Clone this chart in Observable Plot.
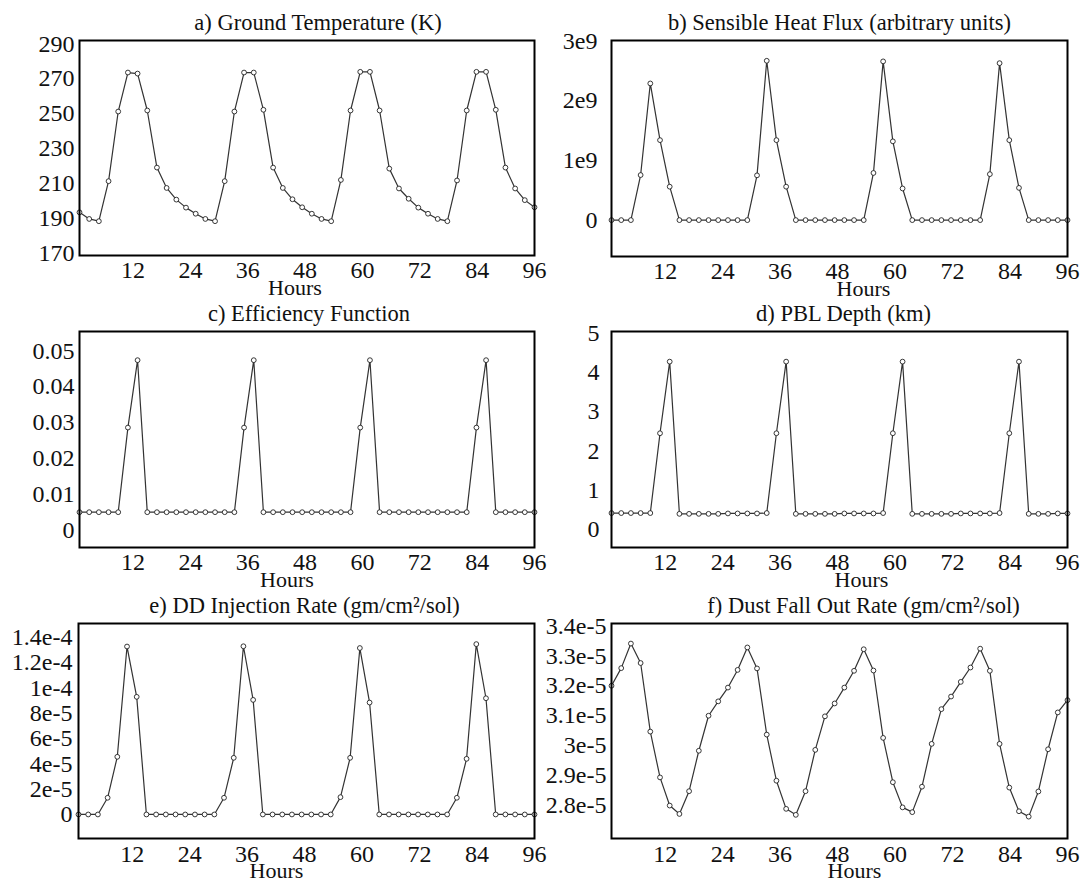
<!DOCTYPE html>
<html>
<head>
<meta charset="utf-8">
<script src="https://cdn.jsdelivr.net/npm/d3@7"></script>
<script src="https://cdn.jsdelivr.net/npm/@observablehq/plot@0.6"></script>
<style>
  body { margin: 0; background: #fff; }
  #chart { position: relative; width: 1083px; height: 882px; font-family: "Liberation Serif", "Times New Roman", serif; }
  #chart svg { position: absolute; overflow: visible; }
</style>
</head>
<body>
<div id="chart"></div>
<script>
// ---- data ----
const hours = [0.80, 2.83, 4.85, 6.88, 8.90, 10.93, 12.95, 14.98, 17.00, 19.03, 21.06, 23.08,
  25.11, 27.13, 29.16, 31.18, 33.21, 35.23, 37.26, 39.28, 41.31, 43.34, 45.36, 47.39,
  49.41, 51.44, 53.46, 55.49, 57.51, 59.54, 61.57, 63.59, 65.62, 67.64, 69.67, 71.69,
  73.72, 75.74, 77.77, 79.79, 81.82, 83.85, 85.87, 87.90, 89.92, 91.95, 93.97, 96.00];

const groundTemp = [193.3, 189.5, 188.2, 211.2, 251.2, 273.6, 273.0, 251.8, 219.0, 207.3, 200.6, 196.0,
  192.5, 189.5, 188.2, 211.2, 251.2, 273.6, 273.6, 252.2, 219.0, 207.3, 200.8, 196.2,
  192.5, 189.5, 188.2, 211.9, 251.8, 274.0, 274.0, 251.8, 218.4, 207.0, 201.1, 196.0,
  192.5, 189.5, 188.2, 211.6, 251.8, 274.0, 274.0, 252.2, 219.0, 207.0, 200.3, 196.2];

const sensibleHeat = [0, 0, 0, 0.755e9, 2.29e9, 1.34e9, 0.56e9, 0, 0, 0, 0, 0,
  0, 0, 0, 0.75e9, 2.67e9, 1.34e9, 0.56e9, 0, 0, 0, 0, 0,
  0, 0, 0, 0.79e9, 2.66e9, 1.32e9, 0.53e9, 0, 0, 0, 0, 0,
  0, 0, 0, 0.77e9, 2.63e9, 1.34e9, 0.54e9, 0, 0, 0, 0, 0];

const efficiency = [0.005, 0.005, 0.005, 0.005, 0.005, 0.0286, 0.0474, 0.005, 0.005, 0.005, 0.005, 0.005,
  0.005, 0.005, 0.005, 0.005, 0.005, 0.0286, 0.0474, 0.005, 0.005, 0.005, 0.005, 0.005,
  0.005, 0.005, 0.005, 0.005, 0.005, 0.0286, 0.0474, 0.005, 0.005, 0.005, 0.005, 0.005,
  0.005, 0.005, 0.005, 0.005, 0.005, 0.0286, 0.0474, 0.005, 0.005, 0.005, 0.005, 0.005];

const pblDepth = [0.41, 0.41, 0.41, 0.41, 0.41, 2.45, 4.28, 0.39, 0.39, 0.39, 0.39, 0.39,
  0.40, 0.40, 0.40, 0.40, 0.41, 2.45, 4.28, 0.39, 0.39, 0.39, 0.39, 0.39,
  0.40, 0.40, 0.40, 0.40, 0.41, 2.45, 4.28, 0.39, 0.39, 0.39, 0.39, 0.39,
  0.40, 0.40, 0.40, 0.40, 0.41, 2.45, 4.28, 0.39, 0.39, 0.39, 0.40, 0.40];

const injection = [0, 0, 0, 1.32e-5, 4.56e-5, 1.328e-4, 9.3e-5, 0, 0, 0, 0, 0,
  0, 0, 0, 1.32e-5, 4.48e-5, 1.33e-4, 9.06e-5, 0, 0, 0, 0, 0,
  0, 0, 0, 1.37e-5, 4.48e-5, 1.316e-4, 8.85e-5, 0, 0, 0, 0, 0,
  0, 0, 0, 1.32e-5, 4.4e-5, 1.347e-4, 9.19e-5, 0, 0, 0, 0, 0];

const dustFall = [3.200e-5, 3.259e-5, 3.341e-5, 3.276e-5, 3.047e-5, 2.894e-5, 2.800e-5, 2.772e-5, 2.848e-5, 2.983e-5, 3.100e-5, 3.148e-5,
  3.194e-5, 3.253e-5, 3.328e-5, 3.258e-5, 3.037e-5, 2.883e-5, 2.789e-5, 2.769e-5, 2.848e-5, 2.986e-5, 3.098e-5, 3.141e-5,
  3.194e-5, 3.250e-5, 3.322e-5, 3.251e-5, 3.026e-5, 2.878e-5, 2.794e-5, 2.778e-5, 2.863e-5, 3.006e-5, 3.122e-5, 3.164e-5,
  3.213e-5, 3.261e-5, 3.324e-5, 3.250e-5, 3.006e-5, 2.860e-5, 2.781e-5, 2.763e-5, 2.847e-5, 2.988e-5, 3.111e-5, 3.152e-5];

const titles = ["a) Ground Temperature (K)", "b) Sensible Heat Flux (arbitrary units)",
  "c) Efficiency Function", "d) PBL Depth (km)",
  "e) DD Injection Rate (gm/cm\u00B2/sol)", "f) Dust Fall Out Rate (gm/cm\u00B2/sol)"];
const xLabel = "Hours";
const xTicks = [12, 24, 36, 48, 60, 72, 84, 96];

const yTicksA = [170, 190, 210, 230, 250, 270, 290];
const yLabelsA = ["170", "190", "210", "230", "250", "270", "290"];
const yTicksB = [0, 1e9, 2e9, 3e9];
const yLabelsB = ["0", "1e9", "2e9", "3e9"];
const yTicksC = [0, 0.01, 0.02, 0.03, 0.04, 0.05];
const yLabelsC = ["0", "0.01", "0.02", "0.03", "0.04", "0.05"];
const yTicksD = [0, 1, 2, 3, 4, 5];
const yLabelsD = ["0", "1", "2", "3", "4", "5"];
const yTicksE = [0, 2e-5, 4e-5, 6e-5, 8e-5, 1e-4, 1.2e-4, 1.4e-4];
const yLabelsE = ["0", "2e-5", "4e-5", "6e-5", "8e-5", "1e-4", "1.2e-4", "1.4e-4"];
const yTicksF = [2.8e-5, 2.9e-5, 3e-5, 3.1e-5, 3.2e-5, 3.3e-5, 3.4e-5];
const yLabelsF = ["2.8e-5", "2.9e-5", "3e-5", "3.1e-5", "3.2e-5", "3.3e-5", "3.4e-5"];

// ---- panel specs (scales + layout) ----
const series = [groundTemp, sensibleHeat, efficiency, pblDepth, injection, dustFall];
const yTicks = [yTicksA, yTicksB, yTicksC, yTicksD, yTicksE, yTicksF];
const yLabels = [yLabelsA, yLabelsB, yLabelsC, yLabelsD, yLabelsE, yLabelsF];
const yDomains = [[168.5, 292], [-0.61e9, 3.01e9], [-0.00485, 0.0554], [-0.47, 5.05], [-1.9e-5, 1.51e-4], [2.69e-5, 3.408e-5]];

const layout = [
  {left: 0,   top: 0,   width: 540, height: 291, mL: 79, mR: 6,  mT: 40, mB: 36, yPad: 5,  xPad: 5, titleDx: 11, hoursDx: -12},
  {left: 540, top: 0,   width: 543, height: 291, mL: 71, mR: 16, mT: 40, mB: 35, yPad: 14, xPad: 5, titleDx: 0,  hoursDx: 24},
  {left: 0,   top: 291, width: 540, height: 291, mL: 79, mR: 6,  mT: 40, mB: 35, yPad: 5,  xPad: 5, titleDx: 2,  hoursDx: -20},
  {left: 540, top: 291, width: 543, height: 291, mL: 71, mR: 16, mT: 40, mB: 35, yPad: 12, xPad: 5, titleDx: 4,  hoursDx: 22},
  {left: 0,   top: 582, width: 540, height: 300, mL: 78, mR: 6,  mT: 41, mB: 44, yPad: 6,  xPad: 6, titleDx: -2, hoursDx: -30},
  {left: 540, top: 582, width: 543, height: 300, mL: 71, mR: 16, mT: 41, mB: 44, yPad: 5,  xPad: 6, titleDx: 24, hoursDx: 15}
];

const root = document.getElementById("chart");
series.forEach((vals, i) => {
  const L = layout[i];
  const data = hours.map((h, k) => ({h, v: vals[k]}));
  const labelMap = new Map(yTicks[i].map((t, j) => [t, yLabels[i][j]]));
  const svg = Plot.plot({
    width: L.width, height: L.height,
    marginLeft: L.mL, marginRight: L.mR, marginTop: L.mT, marginBottom: L.mB,
    style: {fontFamily: "'Liberation Serif', 'Times New Roman', serif", fontSize: "24px", background: "transparent", overflow: "visible", color: "#111"},
    x: {domain: [hours[0], 96]},
    y: {domain: yDomains[i]},
    marks: [
      Plot.axisX({ticks: xTicks, tickSize: 0, tickPadding: L.xPad, label: null, tickFormat: d => String(d)}),
      Plot.axisY({ticks: yTicks[i], tickSize: 0, tickPadding: L.yPad, label: null, tickFormat: d => labelMap.get(d)}),
      Plot.line(data, {x: "h", y: "v", stroke: "#333", strokeWidth: 1.2}),
      Plot.dot(data, {x: "h", y: "v", r: 2.4, fill: "white", stroke: "#222", strokeWidth: 0.9}),
      Plot.frame({stroke: "#000", strokeWidth: 2}),
      Plot.text([titles[i]], {text: d => d, frameAnchor: "top", lineAnchor: "middle", dy: -18, dx: L.titleDx, fontSize: 22.5, fill: "#111"}),
      Plot.text([xLabel], {text: d => d, frameAnchor: "bottom", lineAnchor: "middle", dy: 32, dx: L.hoursDx, fontSize: 22, fill: "#111"})
    ]
  });
  svg.style.left = L.left + "px";
  svg.style.top = L.top + "px";
  root.appendChild(svg);
});
</script>
</body>
</html>
